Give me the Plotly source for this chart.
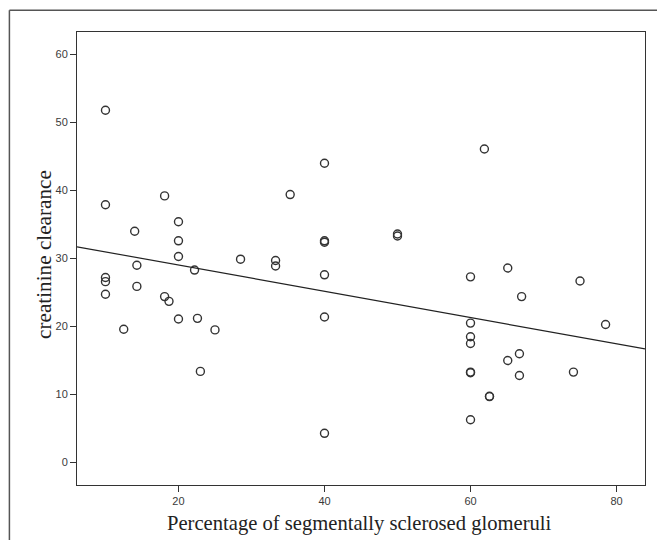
import plotly.graph_objects as go

# Data
pct_sclerosed = [10, 10, 10, 10, 10, 12.5, 14, 14.3, 14.3, 18.1, 18.1, 18.7,
                 20, 20, 20, 20, 22.2, 22.6, 23, 25, 28.5, 33.3, 33.3, 35.3,
                 40, 40, 40, 40, 40, 40, 50, 50,
                 60, 60, 60, 60, 60, 60, 60, 61.9, 62.6, 62.6, 65.1, 65.1,
                 66.7, 66.7, 67, 74.1, 75, 78.5]
creat_clearance = [51.8, 37.9, 27.2, 26.6, 24.75, 19.6, 34.0, 29.0, 25.9, 39.2, 24.4, 23.7,
                   35.4, 32.6, 30.3, 21.1, 28.3, 21.2, 13.4, 19.5, 29.9, 29.7, 28.9, 39.4,
                   44.0, 32.6, 32.4, 27.6, 21.4, 4.3, 33.6, 33.3,
                   27.3, 20.5, 18.5, 17.5, 13.3, 13.2, 6.3, 46.1, 9.75, 9.7, 28.6, 15.0,
                   16.0, 12.8, 24.4, 13.3, 26.7, 20.3]

# Fit line
fit_intercept = 32.9
fit_slope = -0.193
x_range = [6.1, 83.9]
y_range = [-3.3, 63.3]

x_ticks = [20, 40, 60, 80]
y_ticks = [0, 10, 20, 30, 40, 50, 60]

x_title = "Percentage of segmentally sclerosed glomeruli"
y_title = "creatinine clearance"

fig = go.Figure()
fig.add_trace(go.Scatter(
    x=pct_sclerosed, y=creat_clearance, mode="markers",
    marker=dict(symbol="circle-open", size=8, color="#333333",
                line=dict(width=1.4, color="#333333")),
    showlegend=False, hoverinfo="x+y"))

fit_x = x_range
fit_y = [fit_intercept + fit_slope * v for v in fit_x]
fig.add_trace(go.Scatter(x=fit_x, y=fit_y, mode="lines",
                         line=dict(color="#222222", width=1.2),
                         showlegend=False, hoverinfo="skip"))

axis_common = dict(showline=True, linecolor="#333333", linewidth=1, mirror=True,
                   ticks="outside", ticklen=6, tickcolor="#333333", tickwidth=1,
                   showgrid=False, zeroline=False,
                   tickfont=dict(family="Liberation Sans, Arial, sans-serif", size=11, color="#3a3a3a"))

fig.update_xaxes(range=x_range, tickvals=x_ticks, **axis_common)
fig.update_yaxes(range=y_range, tickvals=y_ticks, **axis_common)

title_font = dict(family="Liberation Serif, Times New Roman, serif", size=20.6, color="#222222")
fig.add_annotation(text=x_title, xref="paper", yref="paper", x=0.497, y=-0.084,
                   xanchor="center", yanchor="middle", showarrow=False, font=title_font)
fig.add_annotation(text=y_title, xref="paper", yref="paper", x=-0.058, y=0.508,
                   xanchor="center", yanchor="middle", textangle=-90, showarrow=False,
                   font=dict(family="Liberation Serif, Times New Roman, serif", size=21.2, color="#222222"))

# Outer frame lines (top and left)
fig.add_shape(type="line", xref="paper", yref="paper",
              x0=-0.119, x1=1.03, y0=1.048, y1=1.048,
              line=dict(color="#555555", width=1.5))
fig.add_shape(type="line", xref="paper", yref="paper",
              x0=-0.119, x1=-0.119, y0=1.048, y1=-0.14,
              line=dict(color="#555555", width=1.5))

fig.update_layout(width=657, height=540,
                  margin=dict(l=77, r=12, t=32, b=55),
                  paper_bgcolor="white", plot_bgcolor="white")

fig.write_html("out.html", config={"displayModeBar": False},
               post_script="document.body.style.margin='0';document.body.style.overflow='hidden';")
